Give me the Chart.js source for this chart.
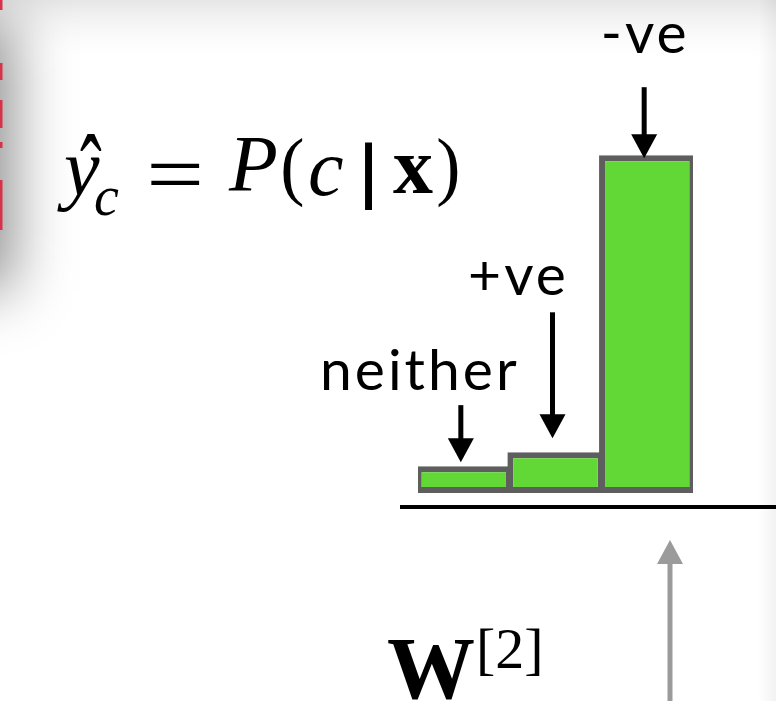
<!DOCTYPE html>
<html>
<head>
<meta charset="utf-8">
<script src="https://cdn.jsdelivr.net/npm/chart.js@4"></script>
<style>
  html, body { margin: 0; padding: 0; background: #fff; }
  #wrap { width: 776px; height: 701px; }
</style>
</head>
<body>
<div id="wrap"><canvas id="myChart" width="776" height="701"></canvas></div>
<script>
// class probabilities
const classes = ['neither', '+ve', '-ve'];
const probs = [0.066, 0.10, 0.83];

// where each label/arrow sits relative to its bar (px)
const labelLayout = [
  { dx: -44, textDy: -76, arrowTop: -61, tipDy: -4 },
  { dx: -37, textDy: -157, arrowTop: -140, tipDy: -14 },
  { dx: -2, textDy: -102, arrowTop: -68, tipDy: 3 }
];

function arrow(ctx, x, y1, y2, color, lw, headW, headH) {
  ctx.save();
  ctx.strokeStyle = color;
  ctx.fillStyle = color;
  ctx.lineWidth = lw;
  const dir = y2 > y1 ? 1 : -1;
  ctx.beginPath();
  ctx.moveTo(x, y1);
  ctx.lineTo(x, y2 - dir * headH + dir);
  ctx.stroke();
  ctx.beginPath();
  ctx.moveTo(x - headW / 2, y2 - dir * headH);
  ctx.lineTo(x + headW / 2, y2 - dir * headH);
  ctx.lineTo(x, y2);
  ctx.closePath();
  ctx.fill();
  ctx.restore();
}

// put the ink of a string at a given left / top
function drawInk(ctx, text, font, left, top) {
  ctx.font = font;
  const m = ctx.measureText(text);
  ctx.fillText(text, left + m.actualBoundingBoxLeft, top + m.actualBoundingBoxAscent);
}

// stretch a glyph so its ink fills a box
function drawFit(ctx, text, font, left, top, w, h) {
  ctx.font = font;
  const m = ctx.measureText(text);
  const iw = m.actualBoundingBoxLeft + m.actualBoundingBoxRight;
  const ih = m.actualBoundingBoxAscent + m.actualBoundingBoxDescent;
  ctx.save();
  ctx.translate(left, top);
  ctx.scale(w / iw, h / ih);
  ctx.fillText(text, m.actualBoundingBoxLeft, m.actualBoundingBoxAscent);
  ctx.restore();
}

const slideBg = {
  id: 'slideBg',
  beforeDraw(chart) {
    const ctx = chart.ctx;
    const w = chart.width, h = chart.height;
    ctx.save();
    ctx.fillStyle = '#fff';
    ctx.fillRect(0, 0, w, h);
    let g = ctx.createLinearGradient(0, 0, 0, 65);
    g.addColorStop(0, '#e6e6e6');
    g.addColorStop(1, 'rgba(255,255,255,0)');
    ctx.fillStyle = g;
    ctx.fillRect(0, 0, w, 65);
    g = ctx.createLinearGradient(758, 0, w, 0);
    g.addColorStop(0, 'rgba(0,0,0,0)');
    g.addColorStop(1, 'rgba(0,0,0,0.05)');
    ctx.fillStyle = g;
    ctx.fillRect(758, 0, w - 758, h);
    // soft shadow on the left
    ctx.filter = 'blur(30px)';
    ctx.fillStyle = 'rgba(0,0,0,0.45)';
    ctx.fillRect(-80, 20, 92, 270);
    ctx.filter = 'none';
    // red dashed edge
    ctx.strokeStyle = '#d6334a';
    ctx.lineWidth = 3;
    ctx.setLineDash([10, 53, 17, 20, 28, 14, 6, 32, 50]);
    ctx.beginPath();
    ctx.moveTo(1, 0);
    ctx.lineTo(1, 230);
    ctx.stroke();
    ctx.restore();
  }
};

const annotations = {
  id: 'annotations',
  afterDraw(chart) {
    const ctx = chart.ctx;
    const meta = chart.getDatasetMeta(0);
    const zeroY = chart.scales.y.getPixelForValue(0);

    ctx.save();
    ctx.fillStyle = '#000';
    // baseline under the bars
    ctx.fillRect(400, zeroY + 12, chart.width - 400, 4);

    // class labels + arrows
    ctx.font = '57px Lato';
    ctx.letterSpacing = '3px';
    ctx.textAlign = 'center';
    meta.data.forEach((bar, i) => {
      const L = labelLayout[i];
      ctx.fillText(classes[i], bar.x + L.dx, bar.y + L.textDy);
      arrow(ctx, bar.x - 3, bar.y + L.arrowTop, bar.y + L.tipDy, '#000', 5, 26, 24);
    });
    ctx.letterSpacing = '0px';

    // formula  y^_c = P(c | x)
    ctx.textAlign = 'left';
    const serif = '"Liberation Serif", "Times New Roman", serif';
    drawInk(ctx, 'y', 'italic 80px ' + serif, 57, 157);
    drawFit(ctx, '\u02C6', '80px ' + serif, 80, 135, 22, 17);
    drawInk(ctx, 'c', 'italic 56px ' + serif, 95, 188);
    drawFit(ctx, '=', '80px ' + serif, 150, 163, 50, 22);
    drawInk(ctx, 'P', 'italic 80px ' + serif, 228, 138);
    drawFit(ctx, '(', '80px ' + serif, 283, 138, 20, 70);
    drawInk(ctx, 'c', 'italic 80px ' + serif, 310, 157);
    drawFit(ctx, '|', '80px ' + serif, 365, 142, 7, 68);
    drawInk(ctx, 'x', 'bold 80px ' + serif, 393, 155);
    drawFit(ctx, ')', '80px ' + serif, 438, 138, 20, 70);

    // W^[2] and grey arrow from below
    drawInk(ctx, 'W', 'bold 88px ' + serif, 388, 640);
    drawInk(ctx, '[2]', '58px ' + serif, 480, 628);
    arrow(ctx, 670, chart.height + 5, 540, '#9b9b9b', 5, 26, 24);
    ctx.restore();
  }
};

const ctx = document.getElementById('myChart').getContext('2d');
const myChart = new Chart(ctx, {
  type: 'bar',
  data: {
    labels: classes,
    datasets: [{
      data: probs,
      backgroundColor: '#61d836',
      borderColor: '#5e5e5e',
      borderWidth: 6,
      borderSkipped: false,
      barPercentage: 1.05,
      categoryPercentage: 1.0
    }]
  },
  options: {
    responsive: false,
    animation: false,
    layout: { padding: { left: 418, right: 83, top: 86, bottom: 208 } },
    scales: {
      x: { display: false },
      y: { display: false, min: 0, max: 1 }
    },
    plugins: {
      legend: { display: false },
      tooltip: { enabled: false }
    }
  },
  plugins: [slideBg, annotations]
});
</script>
</body>
</html>
